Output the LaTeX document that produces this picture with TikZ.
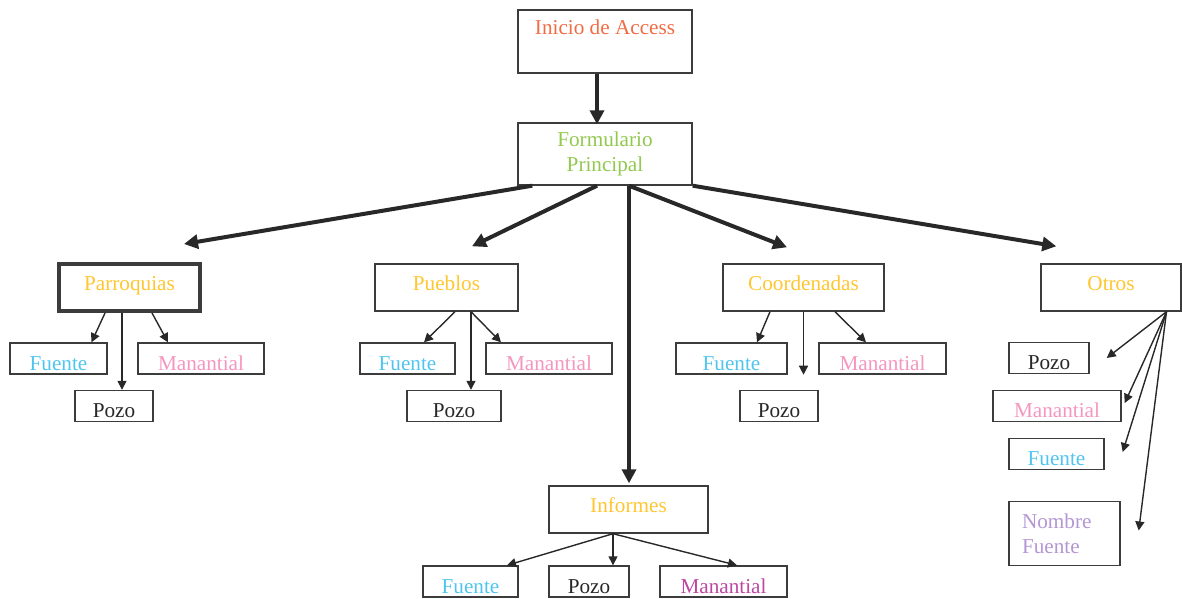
\documentclass[tikz,border=0pt]{standalone}
\usepackage{fontspec}
\setmainfont{Liberation Serif}
\usetikzlibrary{arrows.meta}

\definecolor{inicioc}{RGB}{240,108,68}
\definecolor{formc}{RGB}{146,200,80}
\definecolor{menuc}{RGB}{255,198,48}
\definecolor{fuentec}{RGB}{80,196,240}
\definecolor{manc}{RGB}{245,150,190}
\definecolor{infmanc}{RGB}{190,70,160}
\definecolor{nombrec}{RGB}{180,150,210}
\definecolor{pozoc}{RGB}{40,40,40}
\definecolor{linec}{RGB}{60,60,60}

\begin{document}
\begin{tikzpicture}[x=0.5pt,y=-0.5pt,font=\fontsize{10.6}{12.5}\selectfont]
% Styles
\tikzstyle{box}=[draw=linec,line width=0.7pt,inner sep=0pt,minimum height=23.5pt]
\tikzstyle{menu}=[box,text height=7pt,text depth=4.5pt,text=menuc]
\tikzstyle{leaf}=[draw=linec,line width=0.7pt,inner sep=0pt,minimum height=15.5pt,text height=13.5pt,text depth=2pt]
\tikzstyle{big}=[draw=pozoc,line width=2pt,-{Triangle[length=7pt,width=7pt]}]
\tikzstyle{small}=[draw=pozoc,line width=0.7pt,-{Triangle[length=4.5pt,width=4.5pt]}]

\useasboundingbox (0,0) rectangle (1182,599);

% draw the nodes
\node[box,minimum width=87pt,minimum height=31.5pt,text height=12.5pt,text depth=19pt,text=inicioc] (ini) at (605,41.5) {Inicio de Access};
\node[box,minimum width=87pt,minimum height=31pt,align=center,text=formc] (form) at (605,154) {Formulario\\Principal};

\node[menu,line width=2pt,minimum width=70.5pt] (parr) at (129.5,287.5) {Parroquias};
\node[menu,minimum width=71.5pt] (pueb) at (446.5,287.5) {Pueblos};
\node[menu,minimum width=80.5pt] (coord) at (803.5,287.5) {Coordenadas};
\node[menu,minimum width=70pt] (otros) at (1111,287.5) {Otros};
\node[menu,minimum width=79.5pt] (inf) at (628.5,509.5) {Informes};

%hojas parroquias
\node[leaf,minimum width=48.5pt,text=fuentec] (pfu) at (58.5,358.5) {Fuente};
\node[leaf,minimum width=63pt,text=manc] (pma) at (201,358.5) {Manantial};
\node[leaf,minimum width=39pt,text=pozoc] (ppo) at (114,406) {Pozo};
%hojas pueblos
\node[leaf,minimum width=47.5pt,text=fuentec] (ufu) at (407.5,358.5) {Fuente};
\node[leaf,minimum width=63pt,text=manc] (uma) at (549,358.5) {Manantial};
\node[leaf,minimum width=47pt,text=pozoc] (upo) at (454,406) {Pozo};
%hojas coordenadas
\node[leaf,minimum width=55.5pt,text=fuentec] (cfu) at (731.5,358.5) {Fuente};
\node[leaf,minimum width=63.5pt,text=manc] (cma) at (882.5,358.5) {Manantial};
\node[leaf,minimum width=39pt,text=pozoc] (cpo) at (779,406) {Pozo};
%hojas otros
\node[leaf,minimum width=40pt,text=pozoc] (opo) at (1049,358) {Pozo};
\node[leaf,minimum width=64pt,text=manc] (oma) at (1057,406) {Manantial};
\node[leaf,minimum width=47.5pt,text=fuentec] (ofu) at (1056.5,454) {Fuente};
\node[box,minimum width=55.5pt,minimum height=32pt,text width=42.5pt,align=left,text=nombrec] (onf) at (1064.5,533.5) {Nombre\\Fuente};
%hojas informes
\node[leaf,minimum width=47.5pt,text=fuentec] (ifu) at (470.5,581.5) {Fuente};
\node[leaf,minimum width=40pt,text=pozoc] (ipo) at (589,581.5) {Pozo};
\node[leaf,minimum width=63.5pt,text=infmanc] (ima) at (723.5,581.5) {Manantial};

%fill path
%primer nivel
\draw[big] ([xshift=-4pt]ini.south) -- ([shift={(-8,2)}]form.north);
\draw[big] ([xshift=7.5pt]form.south west) -- ([shift={(127,-18)}]parr.north west);
\draw[big] ([xshift=-4pt]form.south) -- ([shift={(25.5,-17)}]pueb.north);
\draw[big] ([xshift=12pt]form.south) -- ([shift={(0.5,-2)}]inf.north);
\draw[big] ([xshift=12pt]form.south) -- ([shift={(-16.5,-16)}]coord.north);
\draw[big] (form.south east) -- ([shift={(16,-17)}]otros.north west);

%segundo nivel
\draw[small] ([xshift=-12.25pt]parr.south) -- ([shift={(33,0)}]pfu.north);
\draw[small] ([xshift=-3.75pt]parr.south) -- ([shift={(8,0)}]ppo.north);
\draw[small] ([xshift=11.25pt]parr.south) -- ([shift={(-33,0)}]pma.north);

\draw[small] ([xshift=4.25pt]pueb.south) -- ([shift={(16.5,0)}]ufu.north);
\draw[small] ([xshift=12.25pt]pueb.south) -- ([shift={(17,0)}]upo.north);
\draw[small] ([xshift=12.25pt]pueb.south) -- ([shift={(-48,0)}]uma.north);

\draw[small] ([xshift=-16.75pt]coord.south) -- ([shift={(25.5,0)}]cfu.north);
\draw[small] (coord.south) -- ([shift={(0,63)}]coord.south);
\draw[small] ([xshift=15.75pt]coord.south) -- ([shift={(-16.5,0)}]cma.north);

\draw[small] ([xshift=27.75pt]otros.south) -- ([shift={(17,0)}]opo.east);
\draw[small] ([xshift=27.75pt]otros.south) -- ([shift={(3,-3)}]oma.east);
\draw[small] ([xshift=27.75pt]otros.south) -- ([shift={(18,-2)}]ofu.east);
\draw[small] ([xshift=27.75pt]otros.south) -- ([shift={(18,-3)}]onf.east);

\draw[small] ([xshift=-7.75pt]inf.south) -- ([shift={(36.5,0)}]ifu.north);
\draw[small] ([xshift=-7.75pt]inf.south) -- ([shift={(24,0)}]ipo.north);
\draw[small] ([xshift=-7.75pt]inf.south) -- ([shift={(13.5,0)}]ima.north);

\end{tikzpicture}
\end{document}
